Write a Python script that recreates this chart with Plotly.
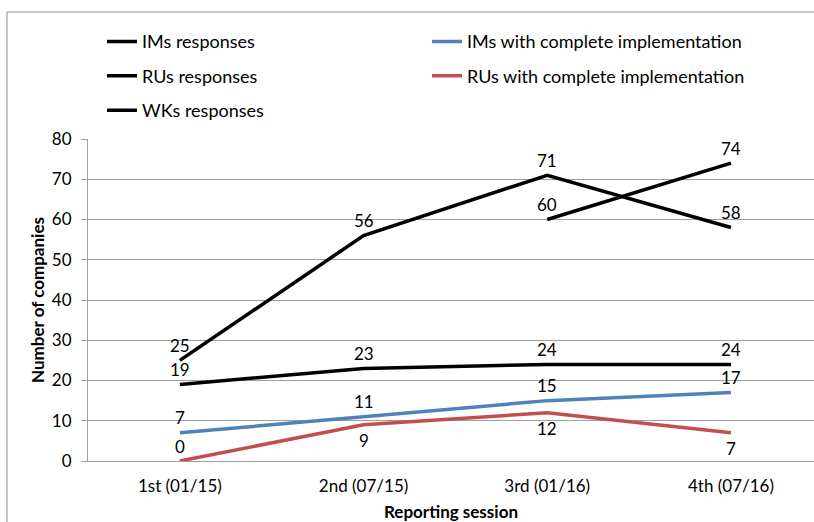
import plotly.graph_objects as go

# Reporting sessions and company counts per series
sessions = ["1st (01/15)", "2nd (07/15)", "3rd (01/16)", "4th (07/16)"]
ims_responses = [19, 23, 24, 24]
rus_responses = [25, 56, 71, 58]
wks_responses = [None, None, 60, 74]
ims_complete = [7, 11, 15, 17]
rus_complete = [0, 9, 12, 7]

# label placement: +1 above the line, -1 below
rus_complete_label_side = [1, -1, -1, -1]

FONT = "Lato"
BLACK = "#000000"
BLUE = "#4F81BD"
RED = "#C0504D"
GRID = "#A0A0A0"

fig = go.Figure()

series = [
    ("IMs responses", ims_responses, BLACK, "legend", "g1"),
    ("RUs responses", rus_responses, BLACK, "legend", "g2"),
    ("WKs responses", wks_responses, BLACK, "legend", "g3"),
    ("IMs with complete implementation", ims_complete, BLUE, "legend2", "g4"),
    ("RUs with complete implementation", rus_complete, RED, "legend2", "g5"),
]

for name, vals, color, leg, grp in series:
    fig.add_trace(go.Scatter(
        x=sessions, y=vals, mode="lines", name=name,
        line=dict(color=color, width=3.5),
        legend=leg, legendgroup=grp,
        connectgaps=False,
    ))

# value labels
def add_labels(vals, sides=None):
    for i, v in enumerate(vals):
        if v is None:
            continue
        side = sides[i] if sides else 1
        fig.add_annotation(
            x=sessions[i], y=v, text=str(v), showarrow=False,
            yshift=15 if side > 0 else -16,
            font=dict(family=FONT, size=17, color="#000000"),
        )

add_labels(ims_responses)
add_labels(rus_responses)
add_labels(wks_responses)
add_labels(ims_complete)
add_labels(rus_complete, rus_complete_label_side)

# outer chart frame (left and top edges)
fig.add_shape(type="line", xref="paper", yref="paper",
              x0=-0.1116, x1=-0.1116, y0=1.3944, y1=-0.3,
              line=dict(color="#8C8C8C", width=1))
fig.add_shape(type="line", xref="paper", yref="paper",
              x0=-0.1116, x1=1.05, y0=1.3944, y1=1.3944,
              line=dict(color="#8C8C8C", width=1))

fig.update_layout(
    width=814, height=522,
    margin=dict(l=88, r=0, t=139, b=61),
    paper_bgcolor="white", plot_bgcolor="white",
    font=dict(family=FONT, size=17, color="#000000"),
    legend=dict(
        x=0.0193, y=1.3595, xref="paper", yref="paper",
        xanchor="left", yanchor="top",
        orientation="v", tracegroupgap=8,
        font=dict(family=FONT, size=18),
        bgcolor="rgba(0,0,0,0)",
    ),
    legend2=dict(
        x=0.467, y=1.3595, xref="paper", yref="paper",
        xanchor="left", yanchor="top",
        orientation="v", tracegroupgap=8,
        font=dict(family=FONT, size=18),
        bgcolor="rgba(0,0,0,0)",
    ),
    xaxis=dict(
        type="category", range=[-0.5, 3.452],
        showgrid=False, showline=True, linecolor=GRID, linewidth=1,
        ticks="", tickfont=dict(family=FONT, size=17),
        ticklabelstandoff=10,
        title=dict(text="<b>Reporting session</b>", font=dict(family=FONT, size=17), standoff=13),
        fixedrange=True,
    ),
    yaxis=dict(
        range=[0, 80], dtick=10,
        showgrid=True, gridcolor=GRID, gridwidth=1,
        showline=True, linecolor=GRID, linewidth=1,
        ticks="outside", ticklen=6, tickcolor=GRID,
        tickfont=dict(family=FONT, size=17),
        ticklabelstandoff=6,
        title=dict(text="<b>Number of companies</b>", font=dict(family=FONT, size=17), standoff=2),
        zeroline=False, fixedrange=True,
    ),
    showlegend=True,
)

fig.write_html("out.html", config={"displayModeBar": False})
